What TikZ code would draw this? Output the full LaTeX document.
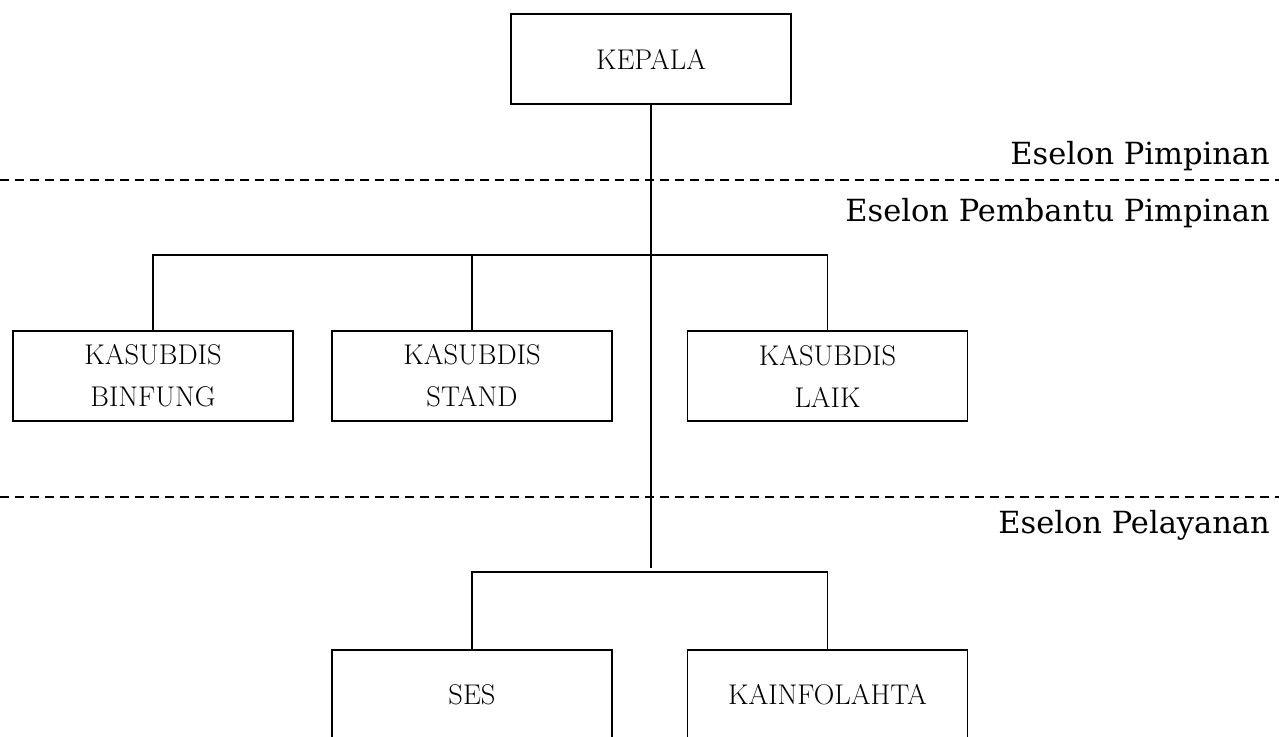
\documentclass[tikz,border=0pt]{standalone}
\usepackage{fontspec}
\newfontfamily\eselonfont{DejaVu Serif}
\begin{document}
\begin{tikzpicture}[x=1pt,y=-1pt,
  box/.style={draw,line width=1.6pt,minimum width=280pt,minimum height=90pt,inner sep=0pt,align=center,
    font=\fontsize{28.5}{42}\selectfont},
  conn/.style={line width=1.6pt},
  sep/.style={line width=1.8pt,dash pattern=on 9pt off 6pt},
  lvl/.style={anchor=base east,inner sep=0pt,font=\eselonfont\fontsize{30.5}{36}\selectfont}]
\useasboundingbox (0,0) rectangle (1279,736);
\clip (0,0) rectangle (1279,736);
\node[box] (kepala) at (651,59) {KEPALA};
\node[box] (binfung) at (153,376) {KASUBDIS\\BINFUNG};
\node[box] (stand) at (472,376) {KASUBDIS\\STAND};
\node[box] (laik) at (827.5,376) {KASUBDIS\\LAIK};
\node[box] (ses) at (472,695) {SES};
\node[box] (kainf) at (827.5,695) {KAINFOLAHTA};
\coordinate (bar1) at (651,255);
\coordinate (hub) at (651,568);
\coordinate (bar2) at (651,572);
\coordinate (dl1) at (0,180);
\coordinate (dr1) at (1279,180);
\coordinate (dl2) at (0,497);
\coordinate (dr2) at (1279,497);
\draw[sep] (dl1) -- (dr1);
\draw[sep] (dl2) -- (dr2);
\node[lvl] (l1) at (1270,164) {Eselon Pimpinan};
\node[lvl] (l2) at (1270,221) {Eselon Pembantu Pimpinan};
\node[lvl] (l3) at (1270,533) {Eselon Pelayanan};
\draw[conn] (kepala.south) -- (hub);
\draw[conn] (binfung.north) |- (bar1) -| (laik.north);
\draw[conn] (stand.north) -- (stand.north |- bar1);
\draw[conn] (ses.north) |- (bar2) -| (kainf.north);
\end{tikzpicture}
\end{document}
